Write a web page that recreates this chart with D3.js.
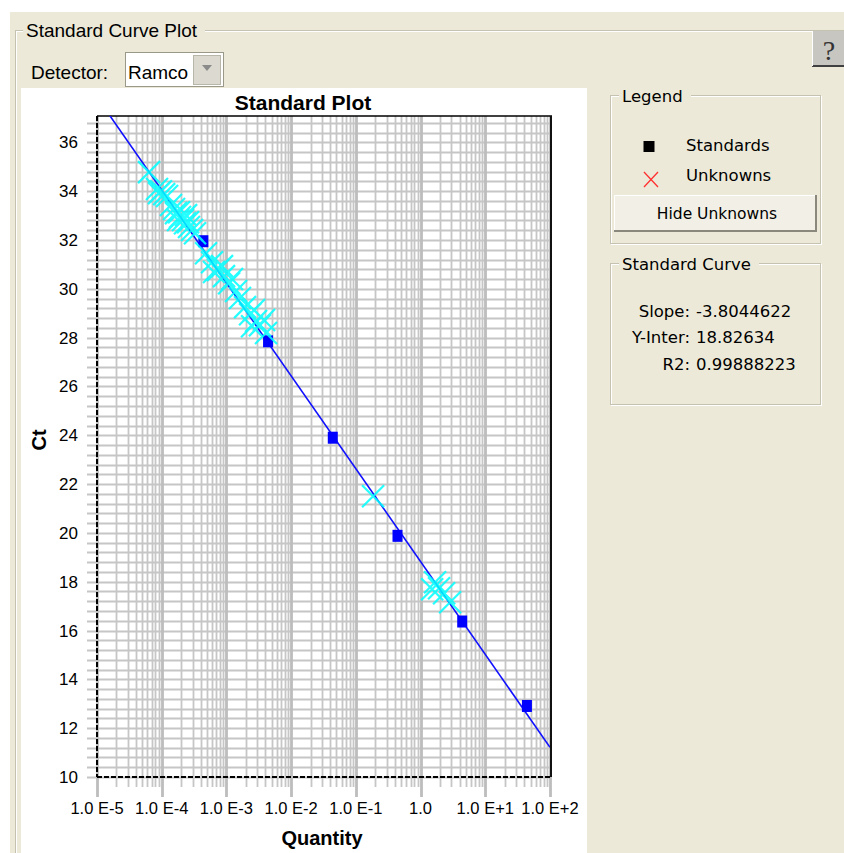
<!DOCTYPE html>
<html>
<head>
<meta charset="utf-8">
<script src="https://cdnjs.cloudflare.com/ajax/libs/d3/7.8.5/d3.min.js"></script>
<style>
  body { margin: 0; background: #ece9d8; }
  svg { display: block; }
</style>
</head>
<body>
<div id="my_dataviz"></div>
<script>
// standards (blue squares): quantity and Ct
var stdQty = [4.4e-4, 4.4e-3, 4.4e-2, 0.44, 4.4, 44];
var stdCt  = [31.95, 27.85, 23.9, 19.88, 16.37, 12.91];

// unknowns (cyan crosses): quantity and Ct
var unkQty = [6.37e-5, 8.45e-5, 9.75e-5, 1.09e-4, 1.21e-4, 9.08e-5,
  1.39e-4, 1.55e-4, 1.66e-4, 1.85e-4, 1.92e-4, 2.13e-4, 2.29e-4, 2.55e-4, 2.64e-4, 2.94e-4, 3.27e-4, 1.79e-4, 2.38e-4,
  4.84e-4, 6.00e-4, 7.42e-4, 8.55e-4, 9.18e-4, 1.10e-3, 1.22e-3, 1.41e-3, 6.43e-4, 1.62e-3,
  1.94e-3, 2.32e-3, 2.67e-3, 2.87e-3, 3.30e-3, 3.81e-3, 4.09e-3, 2.49e-3,
  0.1845,
  1.675, 1.93, 2.31, 2.86, 1.51];
var unkCt = [34.78, 34.09, 34.00, 33.88, 33.80, 33.92,
  33.43, 33.27, 33.10, 33.14, 32.94, 32.82, 32.69, 32.73, 32.53, 32.41, 32.28, 32.82, 33.02,
  31.46, 31.09, 30.77, 30.93, 30.52, 30.23, 30.40, 29.91, 30.69, 29.62,
  29.25, 28.96, 29.13, 28.68, 28.51, 28.72, 28.19, 28.47,
  21.50,
  17.98, 17.73, 17.53, 17.16, 17.69];

// fitted standard curve
var slope = -3.8044622, yInter = 18.82634, r2 = 0.99888223;
var curveLabels = ["Slope:", "Y-Inter:", "R2:"];
var curveValues = ["-3.8044622", "18.82634", "0.99888223"];

// axis ticks
var xTickValues = [1e-5, 1e-4, 1e-3, 1e-2, 1e-1, 1, 10, 100];
var xTickLabels = ["1.0 E-5", "1.0 E-4", "1.0 E-3", "1.0 E-2", "1.0 E-1", "1.0", "1.0 E+1", "1.0 E+2"];
var yTickValues = [10, 12, 14, 16, 18, 20, 22, 24, 26, 28, 30, 32, 34, 36];

var W = 844, H = 853;
var beige = "#ece9d8";
var uiFont = "'Liberation Sans', Arial, sans-serif";
var panelFont = "'DejaVu Sans', Verdana, sans-serif";

var svg = d3.select("#my_dataviz")
  .append("svg")
    .attr("width", W)
    .attr("height", H);

// background
svg.append("rect").attr("width", W).attr("height", H).attr("fill", beige);
svg.append("rect").attr("width", W).attr("height", 12).attr("fill", "#fff");
svg.append("rect").attr("width", 10).attr("height", H).attr("fill", "#fff");

// etched group box helper
function groupBox(x, y, w, h, title, font, size, tx, tw) {
  var g = svg.append("g");
  g.append("rect").attr("x", x + 1).attr("y", y + 1).attr("width", w).attr("height", h)
    .attr("fill", "none").attr("stroke", "#fff");
  g.append("rect").attr("x", x).attr("y", y).attr("width", w).attr("height", h)
    .attr("fill", "none").attr("stroke", "#c5c2b2");
  g.append("rect").attr("x", tx - 3).attr("y", y - 10).attr("width", tw + 6).attr("height", 20)
    .attr("fill", beige);
  g.append("text").attr("x", tx).attr("y", y + 6)
    .style("font-family", font).style("font-size", size + "px").attr("fill", "#000")
    .text(title);
}

// main group box
groupBox(15.5, 30.5, 900, 900, "Standard Curve Plot", uiFont, 19, 26, 176);

// detector combo
svg.append("text").attr("x", 31).attr("y", 79)
  .style("font-family", uiFont).style("font-size", "19px").text("Detector:");
svg.append("rect").attr("x", 125.5).attr("y", 52.5).attr("width", 98).attr("height", 34)
  .attr("fill", "#fff").attr("stroke", "#9a9888");
svg.append("rect").attr("x", 193.5).attr("y", 55.5).attr("width", 27).attr("height", 29)
  .attr("fill", "#dcdad0").attr("stroke", "#b8b6a8");
svg.append("path").attr("d", "M202,65 L212,65 L207,71 Z").attr("fill", "#8a8a8a");
svg.append("text").attr("x", 128).attr("y", 79)
  .style("font-family", uiFont).style("font-size", "19px").text("Ramco");

// help button
svg.append("rect").attr("x", 812).attr("y", 31).attr("width", 32).attr("height", 36).attr("fill", "#c8c6c0");
svg.append("line").attr("x1", 812).attr("x2", 844).attr("y1", 66).attr("y2", 66).attr("stroke", "#404040").attr("stroke-width", 2);
svg.append("line").attr("x1", 812.5).attr("x2", 812.5).attr("y1", 31).attr("y2", 66).attr("stroke", "#fff");
svg.append("text").attr("x", 829).attr("y", 60).attr("text-anchor", "middle")
  .style("font-family", "'Liberation Serif', 'DejaVu Serif', serif").style("font-size", "28px")
  .attr("fill", "#333").text("?");

// white chart panel
svg.append("rect").attr("x", 21).attr("y", 88).attr("width", 566).attr("height", 765).attr("fill", "#fff");

// ---------------------------//
//       PLOT                 //
// ---------------------------//
var pLeft = 97, pRight = 550, pTop = 116, pBottom = 777;

var x = d3.scaleLog()
  .domain([1e-5, 100])
  .range([pLeft, pRight]);
var y = d3.scaleLinear()
  .domain([10, 37.08])
  .range([pBottom, pTop]);

var isDecade = function(d) {
  var l = Math.log10(d);
  return Math.abs(l - Math.round(l)) < 1e-9;
};

// horizontal grid every 0.4 Ct, with ticks left of the axis
var hGrid = d3.range(0, 68).map(function(i) { return 10 + i * 0.4; });
svg.append("g")
  .selectAll("line")
  .data(hGrid)
  .enter()
  .append("line")
    .attr("x1", pLeft - 10).attr("x2", pRight)
    .attr("y1", function(d) { return Math.round(y(d)) + 0.5; })
    .attr("y2", function(d) { return Math.round(y(d)) + 0.5; })
    .attr("stroke", "#c6c6c6")
    .attr("stroke-width", 1.8);

// vertical log grid, with ticks below the axis
svg.append("g")
  .selectAll("line")
  .data(x.ticks())
  .enter()
  .append("line")
    .attr("x1", function(d) { return Math.round(x(d)) + 0.5; })
    .attr("x2", function(d) { return Math.round(x(d)) + 0.5; })
    .attr("y1", pTop)
    .attr("y2", function(d) { return isDecade(d) ? pBottom + 20 : pBottom + 10; })
    .attr("stroke", function(d) { return isDecade(d) ? "#bdbdbd" : "#c6c6c6"; })
    .attr("stroke-width", function(d) { return isDecade(d) ? 2.8 : 1.8; });

// frame
svg.append("line").attr("x1", pLeft).attr("x2", pRight + 2).attr("y1", pTop).attr("y2", pTop)
  .attr("stroke", "#000").attr("stroke-width", 1.5);
svg.append("line").attr("x1", pRight + 1).attr("x2", pRight + 1).attr("y1", pTop).attr("y2", pBottom)
  .attr("stroke", "#111").attr("stroke-width", 2);
svg.append("line").attr("x1", pLeft).attr("x2", pLeft).attr("y1", pTop).attr("y2", pBottom)
  .attr("stroke", "#000").attr("stroke-width", 2).attr("stroke-dasharray", "5,2");
svg.append("line").attr("x1", pLeft).attr("x2", pRight + 2).attr("y1", pBottom).attr("y2", pBottom)
  .attr("stroke", "#000").attr("stroke-width", 2).attr("stroke-dasharray", "5,2");

// Y tick labels
svg.append("g")
  .selectAll("text")
  .data(yTickValues)
  .enter()
  .append("text")
    .attr("x", 78)
    .attr("y", function(d) { return y(d) + 6; })
    .attr("text-anchor", "end")
    .style("font-family", uiFont).style("font-size", "17px")
    .text(function(d) { return d; });

// X tick labels
svg.append("g")
  .selectAll("text")
  .data(xTickValues)
  .enter()
  .append("text")
    .attr("x", function(d) { return x(d); })
    .attr("y", 814)
    .attr("text-anchor", "middle")
    .style("font-family", uiFont).style("font-size", "16.5px")
    .text(function(d, i) { return xTickLabels[i]; });

// titles
svg.append("text").attr("x", 303).attr("y", 110).attr("text-anchor", "middle")
  .style("font-family", uiFont).style("font-size", "21px").style("font-weight", "bold")
  .text("Standard Plot");
svg.append("text").attr("x", 322).attr("y", 845).attr("text-anchor", "middle")
  .style("font-family", uiFont).style("font-size", "20px").style("font-weight", "bold")
  .text("Quantity");
svg.append("text").attr("transform", "translate(46,440) rotate(-90)").attr("text-anchor", "middle")
  .style("font-family", uiFont).style("font-size", "20px").style("font-weight", "bold")
  .text("Ct");

// clip for the curve
svg.append("clipPath").attr("id", "plotclip")
  .append("rect").attr("x", pLeft).attr("y", pTop).attr("width", pRight - pLeft).attr("height", pBottom - pTop);

// standard curve
var curve = d3.line()
  .x(function(d) { return x(d); })
  .y(function(d) { return y(slope * Math.log10(d) + yInter); });
svg.append("path")
  .datum(x.domain())
  .attr("clip-path", "url(#plotclip)")
  .attr("d", curve)
  .attr("fill", "none")
  .attr("stroke", "#1010ff")
  .attr("stroke-width", 1.6);

// standards
svg.append("g")
  .selectAll("rect")
  .data(stdQty)
  .enter()
  .append("rect")
    .attr("x", function(d) { return x(d) - 5; })
    .attr("y", function(d, i) { return y(stdCt[i]) - 6; })
    .attr("width", 10)
    .attr("height", 12)
    .attr("fill", "#0000ff");

// unknowns
var s = 11;
svg.append("g")
  .attr("opacity", 0.85)
  .selectAll("path")
  .data(unkQty)
  .enter()
  .append("path")
    .attr("d", function(d, i) {
      var cx = x(d), cy = y(unkCt[i]);
      return "M" + (cx - s) + "," + (cy - s) + "L" + (cx + s) + "," + (cy + s) +
             "M" + (cx - s) + "," + (cy + s) + "L" + (cx + s) + "," + (cy - s);
    })
    .attr("stroke", "#00ffff")
    .attr("stroke-width", 2.2)
    .attr("fill", "none");

// ---------------------------//
//       LEGEND               //
// ---------------------------//
groupBox(610.5, 95.5, 210, 148, "Legend", panelFont, 16.5, 622, 66);

svg.append("rect").attr("x", 643.5).attr("y", 141).attr("width", 11).attr("height", 11).attr("fill", "#000");
svg.append("path").attr("d", "M644,172 L658,187 M644,187 L658,172")
  .attr("stroke", "#ff3030").attr("stroke-width", 1.3).attr("fill", "none");
svg.append("text").attr("x", 686).attr("y", 151)
  .style("font-family", panelFont).style("font-size", "16.5px").text("Standards");
svg.append("text").attr("x", 686).attr("y", 181)
  .style("font-family", panelFont).style("font-size", "16.5px").text("Unknowns");

// hide unknowns button
svg.append("rect").attr("x", 614).attr("y", 195).attr("width", 203).attr("height", 37).attr("fill", "#f2f0e6");
svg.append("path").attr("d", "M614.5,232 L614.5,195.5 L817,195.5").attr("stroke", "#fff").attr("fill", "none");
svg.append("path").attr("d", "M614,231 L816,231 L816,195").attr("stroke", "#8a887c").attr("stroke-width", 2).attr("fill", "none");
svg.append("text").attr("x", 717).attr("y", 219).attr("text-anchor", "middle")
  .style("font-family", panelFont).style("font-size", "15.5px").text("Hide Unknowns");

// standard curve box
groupBox(610.5, 263.5, 210, 141, "Standard Curve", panelFont, 16.5, 622, 134);

svg.append("g")
  .selectAll("text")
  .data(curveLabels)
  .enter()
  .append("text")
    .attr("x", 690)
    .attr("y", function(d, i) { return 317 + i * 26.3; })
    .attr("text-anchor", "end")
    .style("font-family", panelFont).style("font-size", "16.5px")
    .text(function(d) { return d; });
svg.append("g")
  .selectAll("text")
  .data(curveValues)
  .enter()
  .append("text")
    .attr("x", 696)
    .attr("y", function(d, i) { return 317 + i * 26.3; })
    .style("font-family", panelFont).style("font-size", "16.5px")
    .text(function(d) { return d; });
</script>
</body>
</html>
